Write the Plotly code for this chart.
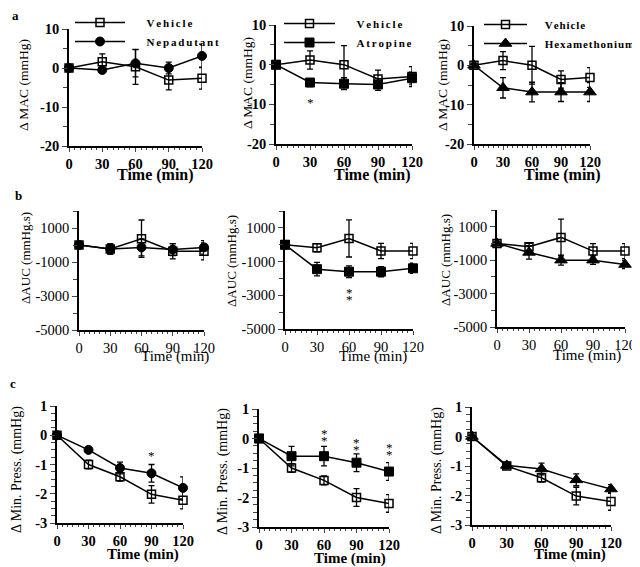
import plotly.graph_objects as go

OFF = 8                      # browser body margin around the plot div
W, H = 640 - OFF, 567 - OFF  # figure size that fits the window
time = [0, 30, 60, 90, 120]

# Row a: delta MAC (mmHg)
a1_veh = [0, 1.6, 0.3, -3.1, -2.6]
a1_veh_err = [0, 2.0, 4.5, 2.5, 2.8]
a1_nep = [0, -0.5, 1.2, 0.0, 3.1]
a1_nep_err = [0, 0.6, 3.5, 1.5, 3.0]

a2_veh = [0, 1.2, 0.0, -3.6, -3.0]
a2_veh_err = [0, 2.3, 4.8, 2.2, 2.5]
a2_atr = [0, -4.5, -4.8, -5.0, -3.4]
a2_atr_err = [0, 1.0, 1.5, 1.5, 1.5]

a3_veh = [0, 1.2, 0.0, -3.6, -3.1]
a3_veh_err = [0, 2.3, 4.8, 2.2, 2.5]
a3_hex = [0, -5.7, -6.8, -6.8, -6.8]
a3_hex_err = [0, 2.6, 2.5, 2.4, 2.4]

# Row b: delta AUC (mmHg.s)
b1_veh = [0, -230, 370, -370, -370]
b1_veh_err = [0, 300, 1100, 450, 500]
b1_nep = [0, -230, -140, -270, -140]
b1_nep_err = [0, 300, 500, 350, 400]

b2_veh = [0, -180, 370, -370, -370]
b2_veh_err = [0, 250, 1100, 450, 450]
b2_atr = [0, -1450, -1600, -1600, -1400]
b2_atr_err = [0, 400, 350, 300, 300]

b3_veh = [0, -200, 360, -460, -460]
b3_veh_err = [0, 200, 1100, 450, 450]
b3_hex = [0, -540, -1000, -1000, -1260]
b3_hex_err = [0, 400, 300, 250, 250]

# Row c: delta minimum pressure (mmHg)
c1_veh = [0, -1.0, -1.42, -2.02, -2.22]
c1_veh_err = [0, 0.15, 0.15, 0.3, 0.3]
c1_nep = [0, -0.5, -1.12, -1.3, -1.8]
c1_nep_err = [0, 0.05, 0.2, 0.3, 0.38]

c2_veh = [0, -1.0, -1.42, -2.0, -2.2]
c2_veh_err = [0, 0.15, 0.15, 0.3, 0.3]
c2_atr = [0, -0.6, -0.6, -0.82, -1.12]
c2_atr_err = [0, 0.33, 0.33, 0.3, 0.3]

c3_veh = [0, -1.0, -1.4, -2.02, -2.2]
c3_veh_err = [0, 0.1, 0.15, 0.3, 0.3]
c3_hex = [0, -0.98, -1.1, -1.47, -1.78]
c3_hex_err = [0, 0.1, 0.2, 0.2, 0.15]

x_ticks = [0, 30, 60, 90, 120]
a_yticks = [-20, -10, 0, 10]
b_yticks = [-5000, -3000, -1000, 1000]
c_yticks = [-3, -2, -1, 0, 1]

SERIF = "Liberation Serif, Times New Roman, serif"


def px(x):
    return (x - OFF) / W


def py(y):
    return 1 - (y - OFF) / H


def spaced(s, sp):
    return sp.join(list(s))


# pixel boxes in window coords: (x0, x1, ytop, ybottom)
panels = [
    dict(box=(69, 202, 29, 146), yr=[-20, 10], yt=a_yticks, ymin=5, row="a",
         veh=(a1_veh, a1_veh_err), drug=(a1_nep, a1_nep_err), dname="Nepadutant", sym="circle"),
    dict(box=(276, 412, 25, 144), yr=[-20, 10], yt=a_yticks, ymin=5, row="a",
         veh=(a2_veh, a2_veh_err), drug=(a2_atr, a2_atr_err), dname="Atropine", sym="square"),
    dict(box=(474, 590, 26, 144), yr=[-20, 10], yt=a_yticks, ymin=5, row="a",
         veh=(a3_veh, a3_veh_err), drug=(a3_hex, a3_hex_err), dname="Hexamethonium", sym="triangle-up"),
    dict(box=(79, 204, 211, 330), yr=[-5000, 2000], yt=b_yticks, ymin=1000, row="b",
         veh=(b1_veh, b1_veh_err), drug=(b1_nep, b1_nep_err), dname="Nepadutant", sym="circle"),
    dict(box=(285, 413, 211, 329), yr=[-5000, 2000], yt=b_yticks, ymin=1000, row="b",
         veh=(b2_veh, b2_veh_err), drug=(b2_atr, b2_atr_err), dname="Atropine", sym="square"),
    dict(box=(497, 625, 210, 327), yr=[-5000, 2000], yt=b_yticks, ymin=1000, row="b",
         veh=(b3_veh, b3_veh_err), drug=(b3_hex, b3_hex_err), dname="Hexamethonium", sym="triangle-up"),
    dict(box=(57, 183, 406, 523), yr=[-3, 1], yt=c_yticks, ymin=0.25, row="c",
         veh=(c1_veh, c1_veh_err), drug=(c1_nep, c1_nep_err), dname="Nepadutant", sym="circle"),
    dict(box=(259, 389, 409, 527), yr=[-3, 1], yt=c_yticks, ymin=0.25, row="c",
         veh=(c2_veh, c2_veh_err), drug=(c2_atr, c2_atr_err), dname="Atropine", sym="square"),
    dict(box=(472, 611, 407, 525), yr=[-3, 1], yt=c_yticks, ymin=0.25, row="c",
         veh=(c3_veh, c3_veh_err), drug=(c3_hex, c3_hex_err), dname="Hexamethonium", sym="triangle-up"),
]

ytitles = {"a": "Δ MAC (mmHg)", "b": "ΔAUC (mmHg.s)", "c": "Δ Min. Press. (mmHg)"}
ytitle_size = {"a": 13.5, "b": 13, "c": 14}

fig = go.Figure()
layout = dict(width=W, height=H, margin=dict(l=0, r=0, t=0, b=0, autoexpand=False),
              template="none",
              paper_bgcolor="white", plot_bgcolor="white", showlegend=True,
              font=dict(family=SERIF, color="black"))
annotations = []

# legend placement in window px: (left x, top y, itemwidth, letter spacer, text indent)
legend_cfg = {0: (70, 8, 50, "\u2006", "\u2003\u2002"),
              1: (279, 9, 51, "\u2006", "\u2003\u2002"),
              2: (479, 10, 43, "\u200a", "\u2003\u2006")}

for i, p in enumerate(panels):
    x0, x1, yt_, yb = p["box"]
    n = "" if i == 0 else str(i + 1)
    xa, ya = "xaxis" + n, "yaxis" + n
    xref, yref = "x" + n, "y" + n
    bold = p["row"] != "b"
    tickfont = dict(family=SERIF, size=14.5, color="black")
    layout[xa] = dict(domain=[px(x0), px(x1)], range=[0, 120], anchor=yref, automargin=False,
                      tickvals=x_ticks, ticktext=[f"<b>{v}</b>" if bold else str(v) for v in x_ticks],
                      ticks="outside", ticklen=4, tickwidth=1.2, showline=True, linewidth=1.5,
                      linecolor="black", showgrid=False, zeroline=False, tickfont=tickfont,
                      minor=dict(dtick=5, tick0=0, ticks="outside", ticklen=2, tickwidth=1,
                                 showgrid=False))
    layout[ya] = dict(domain=[py(yb), py(yt_)], range=p["yr"], anchor=xref, automargin=False,
                      tickvals=p["yt"], ticktext=[f"<b>{v}</b>" if bold else str(v) for v in p["yt"]],
                      ticks="outside", ticklen=5, tickwidth=1.2, showline=True, linewidth=1.5,
                      linecolor="black", showgrid=False, zeroline=False, tickfont=tickfont,
                      minor=dict(dtick=p["ymin"], tick0=0, ticks="outside", ticklen=4, tickwidth=1,
                                 showgrid=False))
    leg = None
    sp, indent = "\u2006", ""
    if p["row"] == "a":
        leg = "legend" if i == 0 else "legend" + str(i + 1)
        lx, ly, iw, sp, indent = legend_cfg[i]
        layout[leg] = dict(x=px(lx), y=py(ly), xanchor="left", yanchor="top",
                           bgcolor="rgba(0,0,0,0)", borderwidth=0, tracegroupgap=0,
                           font=dict(family=SERIF, size=11, color="black"),
                           itemwidth=iw)
    vy, ve = p["veh"]
    dy, de = p["drug"]
    msize = 9 if p["sym"] != "triangle-up" else 11
    fig.add_trace(go.Scatter(
        x=time, y=vy, xaxis=xref, yaxis=yref, mode="lines+markers",
        name=f"{indent}<b>{spaced('Vehicle', sp)}</b>",
        line=dict(color="black", width=1.5), cliponaxis=False,
        marker=dict(symbol="square-open", size=8, color="black", line=dict(width=1.5, color="black")),
        error_y=dict(type="data", array=ve, color="black", thickness=1.3, width=3),
        legend=leg if leg else "legend", showlegend=leg is not None))
    fig.add_trace(go.Scatter(
        x=time, y=dy, xaxis=xref, yaxis=yref, mode="lines+markers",
        name=f"{indent}<b>{spaced(p['dname'], sp)}</b>",
        line=dict(color="black", width=1.5), cliponaxis=False,
        marker=dict(symbol=p["sym"], size=msize, color="black", line=dict(width=1, color="black")),
        error_y=dict(type="data", array=de, color="black", thickness=1.3, width=3),
        legend=leg if leg else "legend", showlegend=leg is not None))

# axis titles (window pixel positions)
xt_pos = [(155, 175), (372, 175), (562, 175), (175, 356), (373, 356), (587, 355),
          (143, 554), (350, 558), (570, 554)]
yt_pos = [(23, 85), (247, 83), (442, 85), (25, 258), (232, 261), (445, 260),
          (17, 470), (223, 472), (437, 470)]
for i, p in enumerate(panels):
    bold = p["row"] != "b"
    tx, ty = xt_pos[i]
    annotations.append(dict(x=px(tx), y=py(ty), xref="paper", yref="paper",
                            xanchor="center", yanchor="middle",
                            text="<b>Time (min)</b>" if bold else "Time (min)", showarrow=False,
                            font=dict(family=SERIF, size=16 if p["row"] == "a" else 15, color="black")))
    sx, sy = yt_pos[i]
    annotations.append(dict(x=px(sx), y=py(sy), xref="paper", yref="paper",
                            xanchor="center", yanchor="middle",
                            text=ytitles[p["row"]], showarrow=False, textangle=-90,
                            font=dict(family=SERIF, size=ytitle_size[p["row"]], color="black")))

for letter, (lx, ly) in {"a": (15, 16), "b": (18, 195), "c": (13, 383)}.items():
    annotations.append(dict(x=px(lx), y=py(ly), xref="paper", yref="paper", text=f"<b>{letter}</b>",
                            xanchor="center", yanchor="middle",
                            showarrow=False, font=dict(family=SERIF, size=13, color="black")))

# significance marks: (xref, yref, x, y, number of stars stacked)
sig = [("x2", "y2", 30, -9.0, 1), ("x5", "y5", 60, -2900, 2),
       ("x7", "y7", 90, -0.62, 1), ("x8", "y8", 60, 0.12, 2),
       ("x8", "y8", 90, -0.2, 2), ("x8", "y8", 120, -0.37, 2)]
for xr, yr, xv, yv, k in sig:
    shifts = [0] if k == 1 else [3.5, -3.5]
    for s in shifts:
        annotations.append(dict(x=xv, y=yv, xref=xr, yref=yr, text="*", showarrow=False,
                                xanchor="center", yanchor="middle",
                                yshift=s - 2, font=dict(family=SERIF, size=13, color="black")))

layout["annotations"] = annotations
fig.update_layout(**layout)
fig.write_html("out.html")
